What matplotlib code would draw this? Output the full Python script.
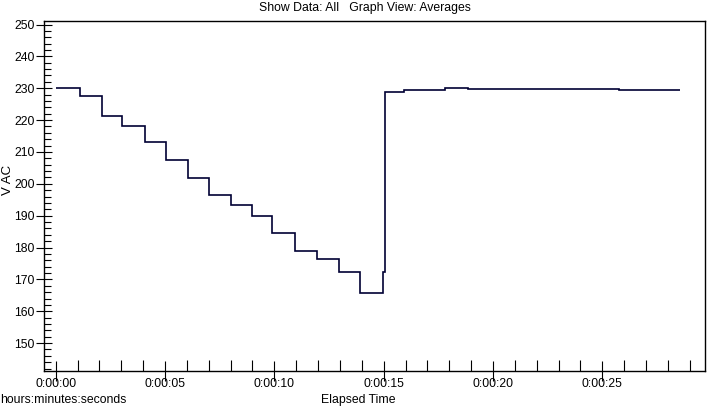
import numpy as np
import matplotlib
matplotlib.use("Agg")
import matplotlib.pyplot as plt
from matplotlib.ticker import MultipleLocator, FuncFormatter

# step edges (seconds) and averaged voltage for each step
edges = [0.0, 1.1, 2.1, 3.05, 4.1, 5.05, 6.05, 7.0, 8.0, 9.0, 9.9, 10.95,
         11.95, 12.95, 13.9, 14.95, 15.05, 15.95, 17.8, 18.85, 25.75, 28.55]
vac = [230.0, 227.5, 221.3, 218.1, 213.0, 207.4, 201.7, 196.5, 193.3, 189.8,
       184.5, 178.9, 176.3, 172.2, 165.6, 172.2, 228.9, 229.5, 230.0, 229.7,
       229.3]
yticks = [150, 160, 170, 180, 190, 200, 210, 220, 230, 240, 250]
xticks = [0, 5, 10, 15, 20, 25]

plt.rcParams['font.family'] = ['Liberation Sans', 'DejaVu Sans']
plt.rcParams['font.size'] = 8.8

fig = plt.figure(figsize=(7.19, 4.08), dpi=100)
ax = fig.add_axes([43.5 / 719, 1 - 370.5 / 408, (705 - 43.5) / 719, (370.5 - 20.7) / 408])

ax.stairs(vac, edges, color='#000033', linewidth=1.2, baseline=None)

ax.set_xlim(-0.56, 29.7)
ax.set_ylim(141.4, 251.2)

ax.set_yticks(yticks)
ax.set_xticks(xticks)
ax.yaxis.set_minor_locator(MultipleLocator(2))
ax.xaxis.set_minor_locator(MultipleLocator(1))
ax.xaxis.set_major_formatter(FuncFormatter(lambda v, p: '0:00:%02d' % int(round(v))))

ax.tick_params(axis='y', which='major', direction='inout', length=11, width=0.8, pad=1)
ax.tick_params(axis='y', which='minor', direction='in', length=5, width=0.8)
ax.tick_params(axis='x', which='major', direction='inout', length=15, width=0.8, pad=-2)
ax.tick_params(axis='x', which='minor', direction='in', length=8, width=0.8)

for s in ax.spines.values():
    s.set_linewidth(1.0)

fig.text(365 / 719, 1 - 8 / 408, 'Show Data: All   Graph View: Averages',
         ha='center', va='center', fontsize=8.8)
fig.text(8 / 719, 1 - 180 / 408, 'V AC', rotation=90, ha='center', va='center', fontsize=9.5)
fig.text(0, 1 - 400 / 408, 'hours:minutes:seconds', ha='left', va='center', fontsize=8.8)
fig.text(358 / 719, 1 - 400 / 408, 'Elapsed Time', ha='center', va='center', fontsize=8.8)

fig.savefig('out.png', dpi=100)
